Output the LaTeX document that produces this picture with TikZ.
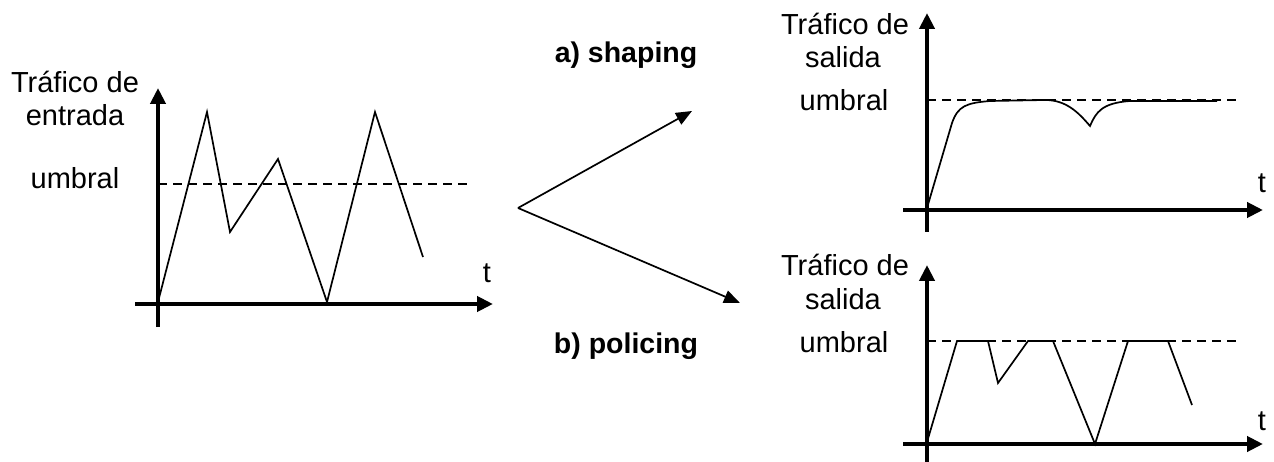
\documentclass[tikz,border=0pt]{standalone}
\usepackage{fontspec}
\setmainfont{Liberation Sans}
\usetikzlibrary{arrows.meta}
\tikzset{
  lbl/.style={anchor=base, inner sep=0pt, font=\fontsize{29}{33}\selectfont},
  blbl/.style={anchor=base, inner sep=0pt, font=\fontsize{28.5}{33}\selectfont\bfseries},
  axis/.style={line width=4pt, -{Triangle[length=16pt,width=15pt]}},
  sig/.style={line width=1.7pt, line join=miter},
  thr/.style={line width=1.5pt, dash pattern=on 9pt off 6pt},
  flow/.style={line width=1.7pt, -{Triangle[length=16pt,width=13pt]}}
}
\begin{document}
\begin{tikzpicture}[x=1pt,y=-1pt]
\useasboundingbox (0,0) rectangle (1274,462);
% ---------- input traffic ----------
\node[lbl] (inA) at (75,93) {Tráfico de};
\node[lbl] (inB) at (75,126) {entrada};
\node[lbl] (inU) at (75,189) {umbral};
\node[lbl] (inT) at (487,283) {t};
\draw[axis] (158,327) -- (158,88);
\draw[axis] (135,304) -- (493,304);
\draw[thr] (158,184) -- (472,184);
\draw[sig] (158,302) -- (207,112) -- (230,232) -- (278,159) -- (327,302) -- (375,112) -- (423,257);
% ---------- branching arrows ----------
\coordinate (v) at (518,208);
\coordinate (up) at (692,111);
\coordinate (dn) at (740,303);
\draw[flow] (v) -- (up);
\draw[flow] (v) -- (dn);
\node[blbl] (sh) at (626,63) {a) shaping};
\node[blbl] (po) at (626,353) {b) policing};
% ---------- shaping output ----------
\node[lbl] (sA) at (845,35) {Tráfico de};
\node[lbl] (sB) at (843,68) {salida};
\node[lbl] (sU) at (844,111) {umbral};
\node[lbl] (sT) at (1262,193) {t};
\draw[axis] (927,232) -- (927,13);
\draw[axis] (903,210) -- (1263,210);
\draw[thr] (927,100) -- (1240,100);
\draw[sig] (927,208) -- (952,123) .. controls (958,106) and (966,103) .. (990,101) -- (1045,100) .. controls (1066,100) and (1078,112) .. (1090,126) .. controls (1096,112) and (1102,103) .. (1130,101) -- (1217,101);
% ---------- policing output ----------
\node[lbl] (pA) at (845,276) {Tráfico de};
\node[lbl] (pB) at (843,309) {salida};
\node[lbl] (pU) at (844,352) {umbral};
\node[lbl] (pT) at (1262,430) {t};
\draw[axis] (927,462) -- (927,265);
\draw[axis] (903,444) -- (1263,444);
\draw[thr] (927,341) -- (1240,341);
\draw[sig] (927,442) -- (957,341) -- (988,341) -- (998,383) -- (1028,341) -- (1053,341) -- (1095,444) -- (1128,341) -- (1168,341) -- (1192,405);
\end{tikzpicture}
\end{document}
